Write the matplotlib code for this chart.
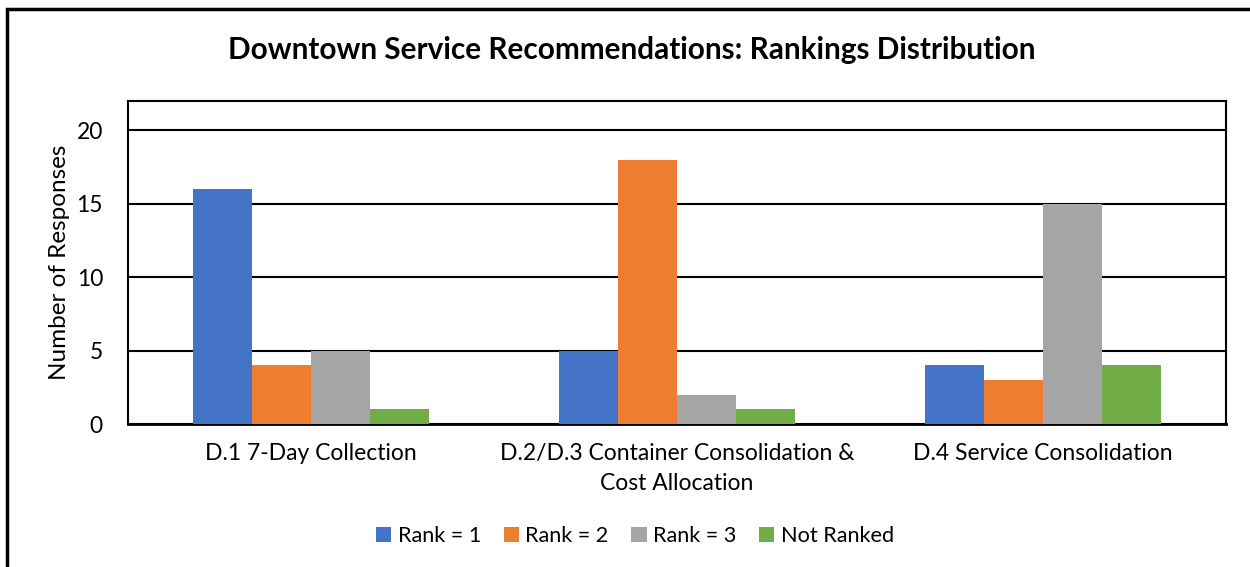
import matplotlib.pyplot as plt
import numpy as np
from matplotlib.patches import Rectangle

plt.rcParams['font.family'] = ['Lato', 'DejaVu Sans']

categories = ['D.1 7-Day Collection',
              'D.2/D.3 Container Consolidation &\nCost Allocation',
              'D.4 Service Consolidation']
series_names = ['Rank = 1', 'Rank = 2', 'Rank = 3', 'Not Ranked']
rank1 = [16, 5, 4]
rank2 = [4, 18, 3]
rank3 = [5, 2, 15]
not_ranked = [1, 1, 4]
colors = ['#4472C4', '#ED7D31', '#A5A5A5', '#70AD47']

fig = plt.figure(figsize=(12.5, 5.67), dpi=100)
ax = fig.add_axes([0.1024, 0.2522, 0.8784, 0.5697])

# outer chart border
fig.patches.append(Rectangle((0.0056, -0.02), 1.1, 1.0041, transform=fig.transFigure,
                             fill=False, edgecolor='black', linewidth=2.5))

x = np.arange(len(categories))
width = 0.161
all_series = [rank1, rank2, rank3, not_ranked]
for i, (vals, name, c) in enumerate(zip(all_series, series_names, colors)):
    ax.bar(x + (i - 1.5) * width, vals, width, color=c, label=name, zorder=3)

ax.set_xlim(-0.5, 2.5)
ax.set_ylim(0, 22)
ax.set_yticks([0, 5, 10, 15, 20])
ax.yaxis.grid(True, color='black', linewidth=1.5, zorder=1)
ax.set_axisbelow(True)
for s in ax.spines.values():
    s.set_color('black')
    s.set_linewidth(1.5)
ax.spines['bottom'].set_linewidth(2)
ax.tick_params(length=0, labelsize=16.5, pad=14)
ax.tick_params(axis='y', pad=18)
ax.set_xticks(x)
ax.set_xticklabels(categories, fontsize=16.5, linespacing=1.5)
ax.set_ylabel('Number of Responses', fontsize=17.5)
ax.yaxis.set_label_coords(-0.053, 0.5)

fig.text(0.505, 0.912, 'Downtown Service Recommendations: Rankings Distribution',
         ha='center', va='center', fontsize=21.4, fontweight='bold')

fig.legend(loc='center', bbox_to_anchor=(0.508, 0.054), ncol=4, frameon=False,
           fontsize=15.6, handlelength=0.7, handleheight=0.7, handletextpad=0.3,
           columnspacing=1.05)

fig.savefig('out.png', dpi=100)
